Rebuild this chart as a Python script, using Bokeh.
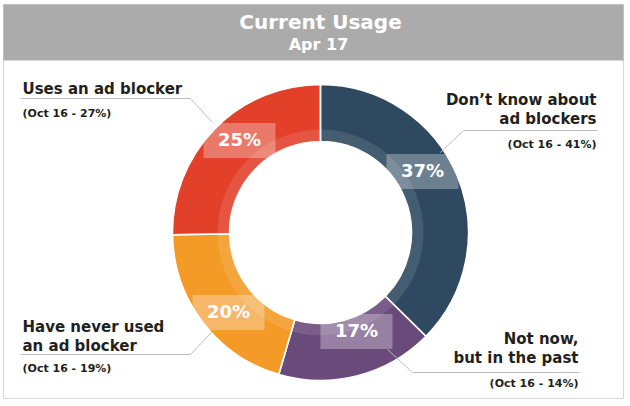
import math
from bokeh.plotting import figure
from bokeh.models import Range1d
from bokeh.core.properties import value
from bokeh.embed import file_html
from bokeh.resources import INLINE

# ---------------- data ----------------
title = "Current Usage"
subtitle = "Apr 17"
categories = ["Don’t know about ad blockers", "Not now, but in the past",
              "Have never used an ad blocker", "Uses an ad blocker"]
label_lines = [["Don’t know about", "ad blockers"],
               ["Not now,", "but in the past"],
               ["Have never used", "an ad blocker"],
               ["Uses an ad blocker"]]
values_apr17 = [37, 17, 20, 25]
values_oct16 = [41, 14, 19, 27]
colors = ["#2E4960", "#6A4A7A", "#F39A27", "#E3402A"]

# ---------------- layout (image pixel coords, y downward) ----------------
W, H = 630, 406
def Y(v):
    return H - v

CX, CY = 320, 232
R_OUT, R_IN, R_BAND = 148, 91, 103
FONT = value("DejaVu Sans")
STYLE = "bold"
TXT = "#231F20"
LEADER = "#BDBDBD"

# percentage box centres
pct_pos = [(422, 171), (356, 331), (228, 312), (239, 140)]
# category label anchors: (x, first-line y, align, oct-line y)
lab_pos = [(596, 99, "right", 144),
           (578, 338, "right", 383),
           (22, 326, "left", 368),
           (22, 88, "left", 113)]
# leader polylines
leaders = [[(440, 152), (463, 130), (597, 130)],
           [(387, 349), (412, 372), (579, 372)],
           [(212, 331), (190, 354), (20, 354)],
           [(212, 122), (190, 98), (20, 98)]]

p = figure(width=W, height=H, x_range=Range1d(0, W), y_range=Range1d(0, H),
           output_backend="svg", toolbar_location=None, min_border=0,
           x_axis_type=None, y_axis_type=None)
p.grid.visible = False
p.outline_line_color = None
p.background_fill_color = "white"
p.border_fill_color = "white"

# frame and header
p.quad(left=3, right=623, top=Y(4), bottom=Y(398), fill_color=None,
       line_color="#D6D6D6", line_width=1)
p.quad(left=3, right=623, top=Y(4), bottom=Y(60), fill_color="#ABABAB",
       line_color=None)
p.text(x=[320], y=[Y(21)], text=[title], text_align="center",
       text_baseline="middle", text_font=FONT, text_font_style=STYLE,
       text_font_size="20px", text_color="white")
p.text(x=[318], y=[Y(44)], text=[subtitle], text_align="center",
       text_baseline="middle", text_font=FONT, text_font_style=STYLE,
       text_font_size="16px", text_color="white")

# donut
total = sum(values_apr17)
starts, ends = [], []
cum = 0
for v in values_apr17:
    starts.append(math.pi / 2 - 2 * math.pi * cum / total)
    cum += v
    ends.append(math.pi / 2 - 2 * math.pi * cum / total)

n = len(values_apr17)
p.annular_wedge(x=[CX] * n, y=[Y(CY)] * n, inner_radius=R_IN, outer_radius=R_OUT,
                inner_radius_units="screen", outer_radius_units="screen",
                start_angle=starts, end_angle=ends, direction="clock",
                fill_color=colors, line_color=None)
p.annulus(x=[CX], y=[Y(CY)], inner_radius=R_IN, outer_radius=R_BAND,
          inner_radius_units="screen", outer_radius_units="screen",
          fill_color="white", fill_alpha=0.11, line_color=None)
p.annular_wedge(x=[CX] * n, y=[Y(CY)] * n, inner_radius=R_IN, outer_radius=R_OUT,
                inner_radius_units="screen", outer_radius_units="screen",
                start_angle=starts, end_angle=ends, direction="clock",
                fill_alpha=0, line_color="white", line_width=1.5)

# leader lines
for pts in leaders:
    p.line(x=[a for a, b in pts], y=[Y(b) for a, b in pts],
           line_color=LEADER, line_width=1)

# percentage boxes and labels
p.rect(x=[a for a, b in pct_pos], y=[Y(b) for a, b in pct_pos],
       width=72, height=35, fill_color="white", fill_alpha=0.3, line_color=None)
p.text(x=[a for a, b in pct_pos], y=[Y(b) + 1 for a, b in pct_pos],
       text=[f"{v}%" for v in values_apr17], text_align="center",
       text_baseline="middle", text_font=FONT, text_font_style=STYLE,
       text_font_size="18px", text_color="white")

# category labels
for lines, (x, y0, align, yo), old in zip(label_lines, lab_pos, values_oct16):
    p.text(x=[x] * len(lines), y=[Y(y0 + 19 * i) for i in range(len(lines))],
           text=lines, text_align=align, text_baseline="middle", text_font=FONT,
           text_font_style=STYLE, text_font_size="15px", text_color=TXT)
    p.text(x=[x], y=[Y(yo)], text=[f"(Oct 16 - {old}%)"], text_align=align,
           text_baseline="middle", text_font=FONT, text_font_style=STYLE,
           text_font_size="11px", text_color=TXT)

open("out.html", "w").write(file_html(p, INLINE))
